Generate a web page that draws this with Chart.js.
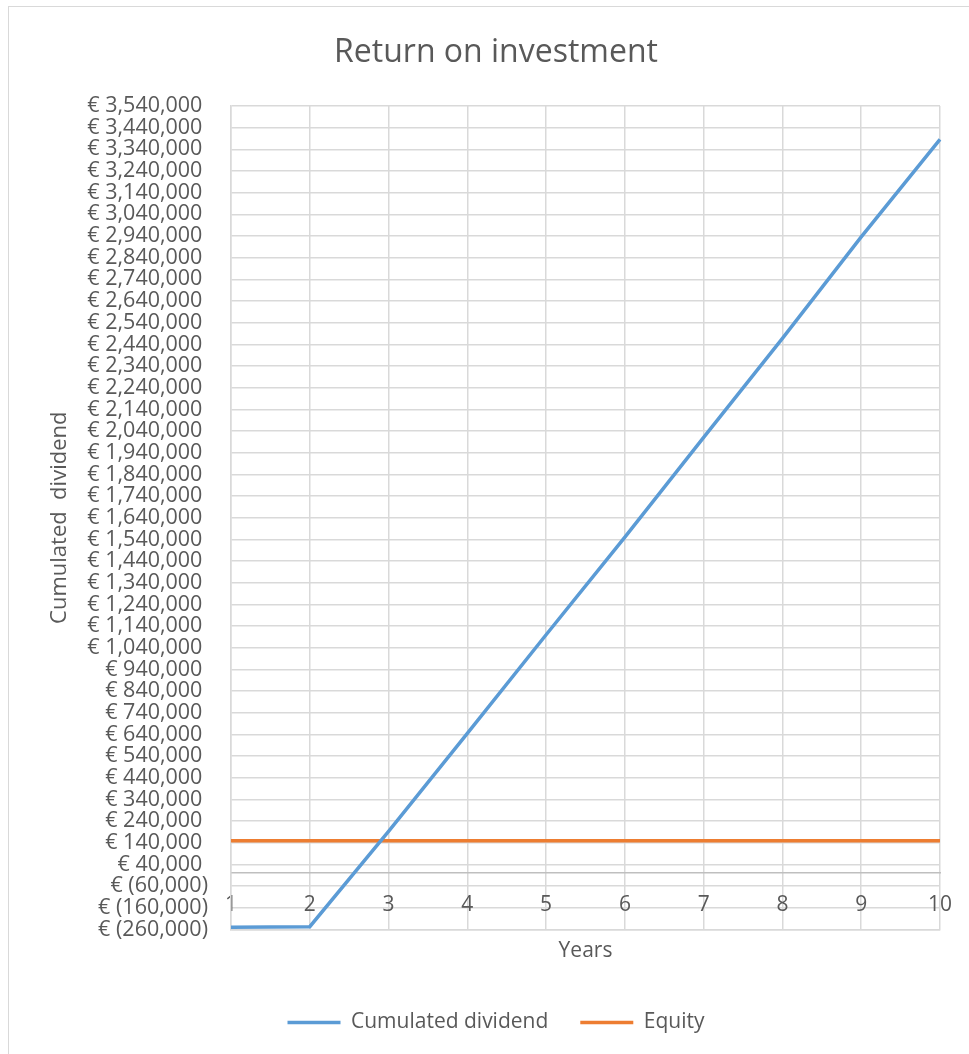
<!DOCTYPE html>
<html>
<head>
<meta charset="utf-8">
<script src="https://cdn.jsdelivr.net/npm/chart.js@4"></script>
<style>
  html, body { margin: 0; padding: 0; background: #fff; overflow: hidden; }
  #box { position: absolute; left: 8px; top: 6px; width: 974px; height: 1060px; border: 1px solid #d9d9d9; }
  #inner { position: absolute; left: 0; top: 0; width: 974px; height: 1036px; }
</style>
</head>
<body>
<div id="box"><div id="inner"><canvas id="myChart"></canvas></div></div>
<script>
// values
var years = ["1", "2", "3", "4", "5", "6", "7", "8", "9", "10"];
var cumDividend = [-250000, -247000, 193000, 645000, 1100000, 1551000, 2011000, 2468000, 2936000, 3386000];
var equity = [150000, 150000, 150000, 150000, 150000, 150000, 150000, 150000, 150000, 150000];
var yTicks = [-260000, -160000, -60000, 40000, 140000, 240000, 340000, 440000, 540000, 640000,
  740000, 840000, 940000, 1040000, 1140000, 1240000, 1340000, 1440000, 1540000, 1640000,
  1740000, 1840000, 1940000, 2040000, 2140000, 2240000, 2340000, 2440000, 2540000, 2640000,
  2740000, 2840000, 2940000, 3040000, 3140000, 3240000, 3340000, 3440000, 3540000];

var grey = "#595959";
var fam = "'Open Sans', sans-serif";

// accounting style: negatives in brackets, positives keep room for the bracket
function euro(v) {
  var s = Math.abs(v).toLocaleString("en-US");
  return v < 0 ? "€ (" + s + ")" : "€ " + s + " ";
}

new Chart("myChart", {
  type: "line",
  data: {
    labels: years,
    datasets: [{
      label: "Cumulated dividend",
      data: cumDividend,
      borderColor: "#5b9bd5",
      backgroundColor: "#5b9bd5",
      borderWidth: 3.5,
      pointRadius: 0,
      xAxisID: "x"
    }, {
      label: "Equity",
      data: equity,
      borderColor: "#ed7d31",
      backgroundColor: "#ed7d31",
      borderWidth: 3.5,
      pointRadius: 0,
      xAxisID: "x"
    }]
  },
  options: {
    responsive: true,
    maintainAspectRatio: false,
    animation: false,
    layout: { padding: 0 },
    plugins: {
      title: {
        display: true,
        text: "Return on investment",
        color: grey,
        font: { family: fam, size: 32, weight: "normal" },
        padding: { top: 27, bottom: 33.6 }
      },
      legend: {
        position: "bottom",
        labels: {
          color: grey,
          font: { family: fam, size: 21 },
          usePointStyle: true,
          pointStyle: "line",
          pointStyleWidth: 53,
          padding: 32
        }
      },
      tooltip: { enabled: false }
    },
    scales: {
      x: {
        type: "category",
        position: "bottom",
        offset: false,
        grid: { color: "#d9d9d9", lineWidth: 1.5, drawTicks: false },
        border: { color: "#d9d9d9", width: 1.5 },
        ticks: { display: false },
        title: {
          display: true,
          text: "Years",
          color: grey,
          font: { family: fam, size: 21 },
          padding: { top: 9.4, bottom: 15.9 }
        }
      },
      x2: {
        type: "category",
        position: { y: 0 },
        offset: false,
        grid: { display: false, drawTicks: false },
        border: { display: true, color: "#bfbfbf", width: 1.5 },
        ticks: { color: grey, font: { family: fam, size: 21 }, padding: 19, maxRotation: 0 }
      },
      y: {
        min: -260000,
        max: 3540000,
        afterBuildTicks: function (scale) {
          scale.ticks = yTicks.map(function (v) { return { value: v }; });
        },
        afterFit: function (scale) { scale.width = 222; },
        grid: { color: "#d9d9d9", lineWidth: 1.5, drawTicks: false },
        border: { color: "#d9d9d9", width: 1.5 },
        ticks: {
          autoSkip: false,
          color: grey,
          font: { family: fam, size: 21.5 },
          padding: 23,
          callback: function (v) { return euro(v); }
        },
        title: {
          display: true,
          text: "Cumulated  dividend",
          color: grey,
          font: { family: fam, size: 22 },
          padding: { top: 38, bottom: 0 }
        }
      },
      // empty right margin, so title and legend centre on the whole chart box
      yRight: {
        position: "right",
        afterFit: function (scale) { scale.width = 43; },
        grid: { display: false, drawTicks: false },
        border: { display: false },
        ticks: { display: false }
      }
    }
  }
});
</script>
</body>
</html>
